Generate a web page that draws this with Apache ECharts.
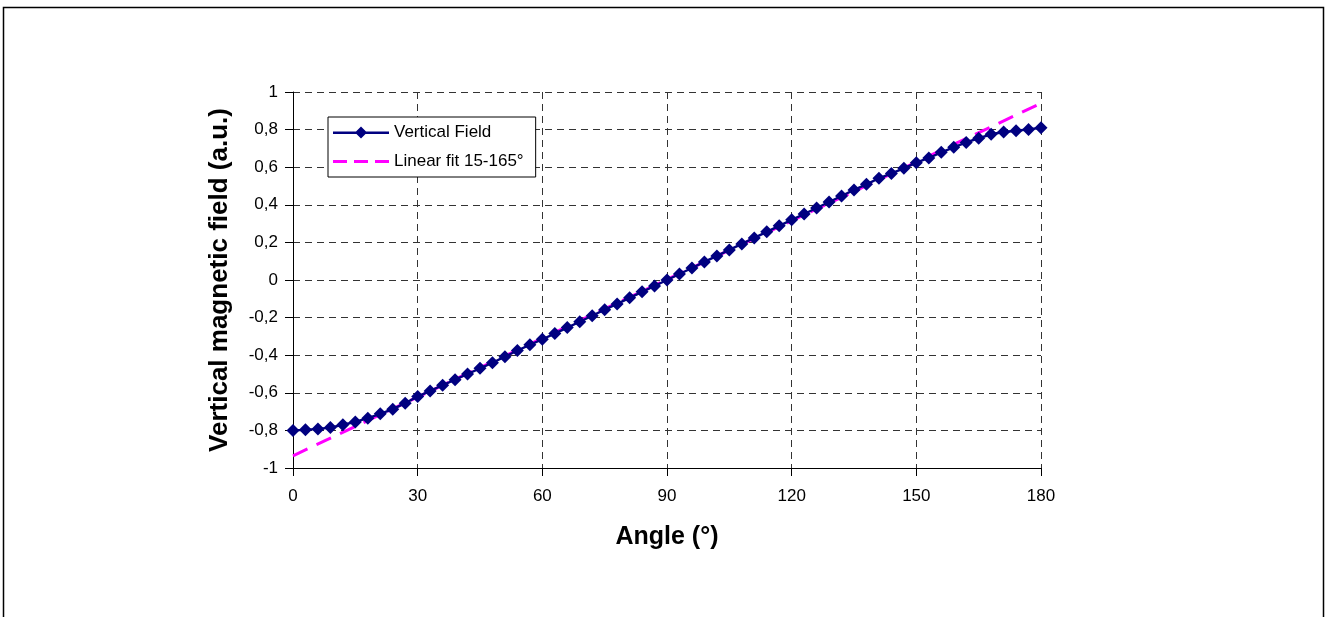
<!DOCTYPE html>
<html><head><meta charset="utf-8">
<script src="https://cdn.jsdelivr.net/npm/echarts@6/dist/echarts.min.js"></script>
<style>html,body{margin:0;padding:0;background:#fff}#c{width:1328px;height:617px}</style>
</head><body><div id="c"></div>
<script>
const angles = [0,3,6,9,12,15,18,21,24,27,30,33,36,39,42,45,48,51,54,57,60,63,66,69,72,75,78,81,84,87,90,93,96,99,102,105,108,111,114,117,120,123,126,129,132,135,138,141,144,147,150,153,156,159,162,165,168,171,174,177,180];
const field = [-0.800,-0.797,-0.792,-0.785,-0.770,-0.755,-0.735,-0.712,-0.687,-0.655,-0.620,-0.590,-0.560,-0.530,-0.500,-0.470,-0.440,-0.408,-0.375,-0.345,-0.315,-0.285,-0.253,-0.222,-0.190,-0.158,-0.127,-0.095,-0.063,-0.032,0.000,0.032,0.064,0.096,0.128,0.160,0.192,0.224,0.256,0.288,0.320,0.351,0.383,0.415,0.447,0.479,0.509,0.541,0.567,0.594,0.624,0.649,0.679,0.706,0.732,0.754,0.775,0.787,0.794,0.801,0.810];
const fitAngles = [0,180];
const fitValues = [-0.935,0.940];

const chart = echarts.init(document.getElementById('c'));
const font = 'Liberation Sans, Arial, sans-serif';
chart.setOption({
  animation:false,
  backgroundColor:'#fff',
  graphic:[{type:'rect',shape:{x:3.5,y:7.5,width:1320,height:620},style:{fill:'none',stroke:'#000',lineWidth:1.5},z:-1}],
  grid:{left:293,right:287,top:92,bottom:149},
  legend:{
    left:328,top:117,orient:'vertical',itemGap:12,itemTextGap:6,
    backgroundColor:'#fff',borderColor:'#000',borderWidth:1,padding:[7,12,7,5],
    itemWidth:56,itemHeight:12,
    textStyle:{fontFamily:font,fontSize:17,color:'#000'},
    data:[
      {name:'Vertical Field',icon:'path://M0,5 L56,5 L56,7.4 L0,7.4 Z M22,6 L28,0 L34,6 L28,12 Z'},
      {name:'Linear fit 15-165°',icon:'path://M0,4.5 L14,4.5 L14,7.5 L0,7.5 Z M21,4.5 L35,4.5 L35,7.5 L21,7.5 Z M42,4.5 L56,4.5 L56,7.5 L42,7.5 Z'}
    ]
  },
  xAxis:{type:'value',min:0,max:180,interval:30,
    name:'Angle (°)',nameLocation:'middle',nameGap:57,
    nameTextStyle:{fontFamily:font,fontSize:25,fontWeight:'bold',color:'#000'},
    axisLine:{onZero:false,lineStyle:{color:'#000',width:1}},
    axisTick:{show:true,length:8,lineStyle:{color:'#000'}},
    axisLabel:{fontFamily:font,fontSize:17,color:'#000',margin:20},
    splitLine:{show:true,lineStyle:{color:'#333',type:[7,5],width:1}}
  },
  yAxis:{type:'value',min:-1,max:1,interval:0.2,
    name:'Vertical magnetic field (a.u.)',nameLocation:'middle',nameGap:60,
    nameTextStyle:{fontFamily:font,fontSize:26,fontWeight:'bold',color:'#000'},
    axisLine:{show:true,onZero:false,lineStyle:{color:'#000',width:1}},
    axisTick:{show:true,length:8,lineStyle:{color:'#000'}},
    axisLabel:{fontFamily:font,fontSize:17,color:'#000',margin:15,
      formatter:v=>{const r=Math.round(v*10)/10;return String(r).replace('.',',');}},
    splitLine:{show:true,lineStyle:{color:'#333',type:[7,5],width:1}}
  },
  series:[
    {name:'Linear fit 15-165°',type:'line',data:fitAngles.map((a,i)=>[a,fitValues[i]]),
      symbol:'none',lineStyle:{color:'#FF00FF',width:3,type:[16,10]},itemStyle:{color:'#FF00FF'},z:2},
    {name:'Vertical Field',type:'line',data:angles.map((a,i)=>[a,field[i]]),
      symbol:'diamond',symbolSize:13,showAllSymbol:true,
      lineStyle:{color:'#000080',width:2.4},itemStyle:{color:'#000080'},z:3}
  ]
});
</script></body></html>
